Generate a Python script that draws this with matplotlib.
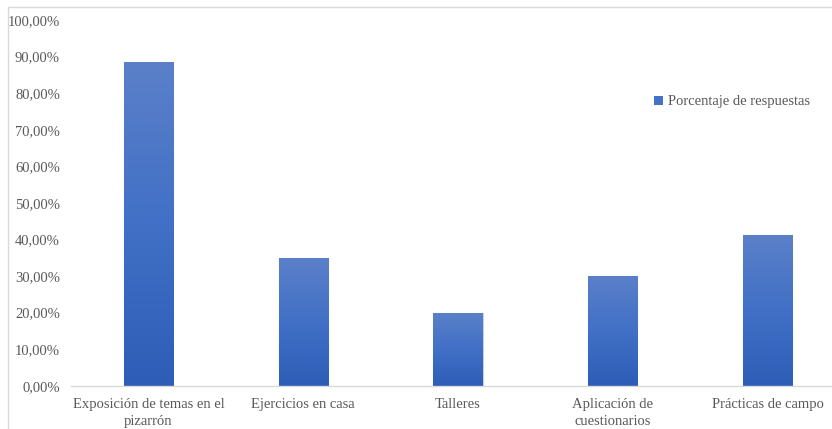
import matplotlib.pyplot as plt
import numpy as np
from matplotlib.colors import LinearSegmentedColormap
from matplotlib.patches import Rectangle
from matplotlib.ticker import FuncFormatter

categorias = ['Exposición de temas en el\npizarrón', 'Ejercicios en casa', 'Talleres',
              'Aplicación de\ncuestionarios', 'Prácticas de campo']
porcentajes = [88.4, 35.0, 20.0, 30.0, 41.1]
serie = 'Porcentaje de respuestas'

plt.rcParams['font.family'] = ['Liberation Serif', 'DejaVu Serif']
gris = '#595959'

fig = plt.figure(figsize=(8.32, 4.29), dpi=100)
fig.patch.set_facecolor('white')

# marco del grafico (recortado a la derecha y abajo)
fig.patches.append(Rectangle((8 / 832, -0.05), 1.2, 1 - 7 / 429 + 0.05, transform=fig.transFigure,
                             fill=False, edgecolor='#d9d9d9', linewidth=1.0, zorder=0))

ax = fig.add_axes([71 / 832, 1 - 385.7 / 429, 774 / 832, (385.7 - 20) / 429])
x = np.arange(len(categorias))
barras = ax.bar(x, porcentajes, width=0.317, color='#4472c4', edgecolor='#c8d0e0',
                linewidth=0.8, label=serie, zorder=2)

# degradado vertical dentro de cada barra
cmap = LinearSegmentedColormap.from_list('azul', ['#2d5db6', '#4170c6', '#5b80c9'])
grad = np.linspace(0, 1, 256).reshape(-1, 1)
for b in barras:
    x0, y0 = b.get_x(), b.get_y()
    w, h = b.get_width(), b.get_height()
    im = ax.imshow(grad, cmap=cmap, origin='lower', aspect='auto',
                   extent=[x0, x0 + w, y0, y0 + h], zorder=2.5)
    im.set_clip_path(b)

ax.set_xlim(-0.5, len(categorias) - 0.5)
ax.set_ylim(0, 100)
ax.set_yticks(np.arange(0, 101, 10))
ax.yaxis.set_major_formatter(FuncFormatter(lambda v, p: f'{v:.2f}'.replace('.', ',') + '%'))
ax.set_xticks(x)
ax.set_xticklabels(categorias, linespacing=1.35)
ax.tick_params(axis='both', length=0, labelsize=10.5, colors=gris)
ax.tick_params(axis='y', pad=8)
ax.tick_params(axis='x', pad=9)
for s in ['top', 'right', 'left']:
    ax.spines[s].set_visible(False)
ax.spines['bottom'].set_color('#d9d9d9')
ax.spines['bottom'].set_linewidth(1.0)

leg = fig.legend(handles=[barras], labels=[serie], loc='center left',
                 bbox_to_anchor=(654 / 832, 1 - 102 / 429), frameon=False,
                 fontsize=10.5, handlelength=0.6, handleheight=0.6, handletextpad=0.35,
                 borderaxespad=0, borderpad=0)
for t in leg.get_texts():
    t.set_color(gris)
for hnd in leg.legend_handles:
    hnd.set_edgecolor('none')

fig.savefig('out.png', dpi=100, facecolor='white')
